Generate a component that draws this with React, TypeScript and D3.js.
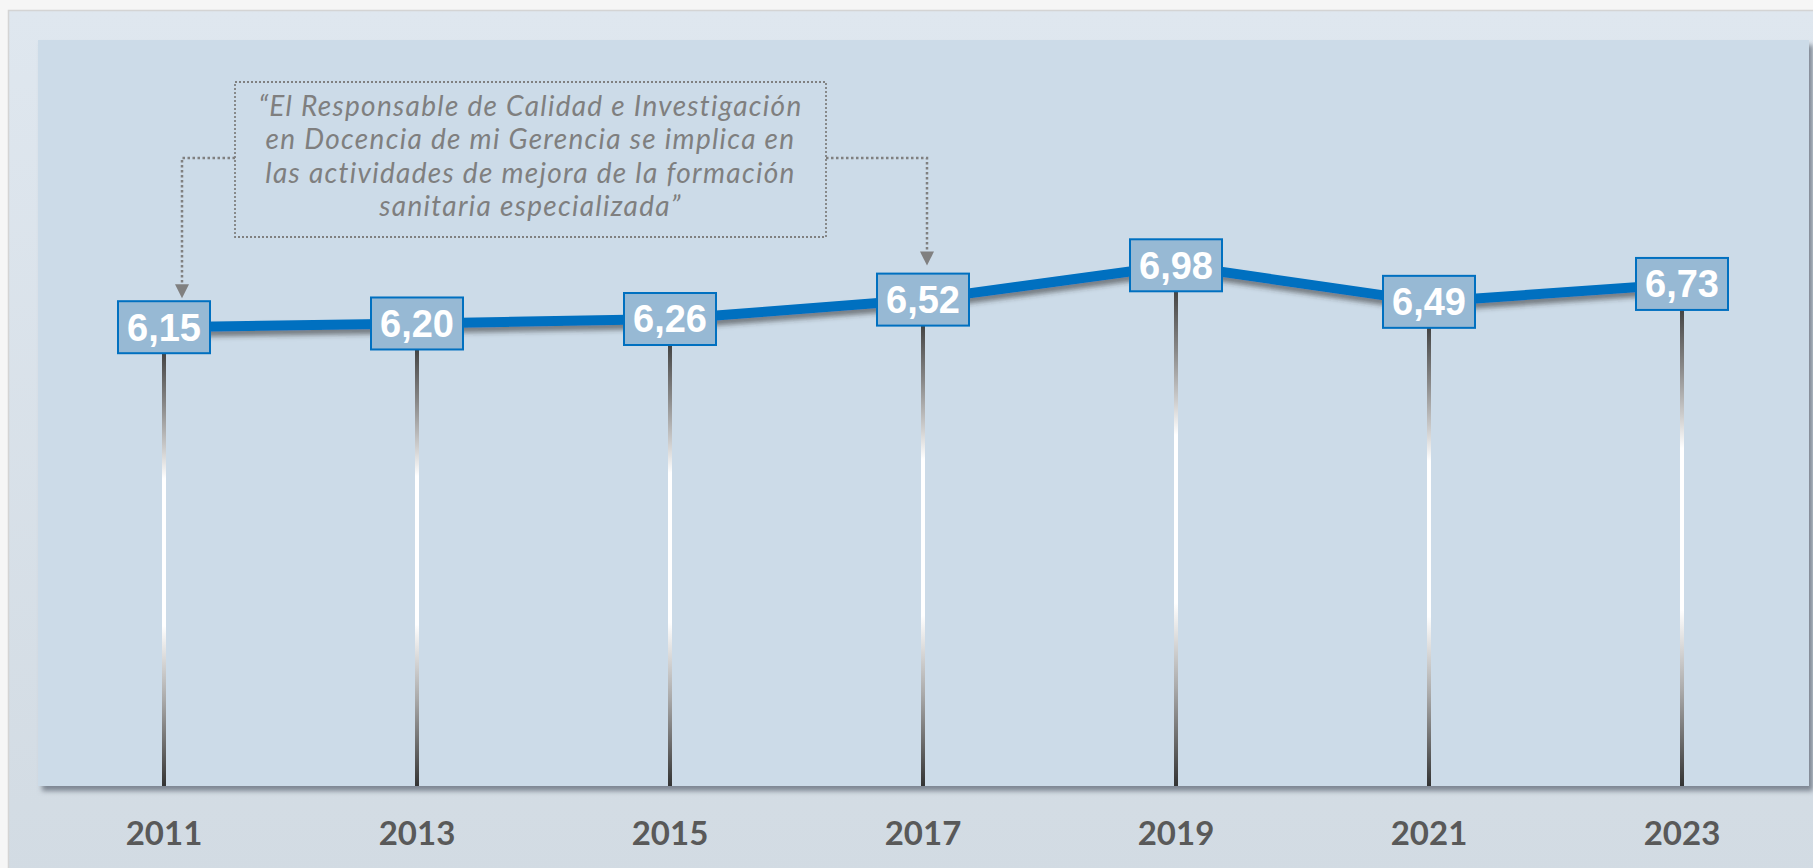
import React from "react";
import * as d3 from "d3";

const years = ["2011", "2013", "2015", "2017", "2019", "2021", "2023"];
const values = [6.15, 6.2, 6.26, 6.52, 6.98, 6.49, 6.73];
const quoteLines = [
  "“El Responsable de Calidad e Investigación",
  "en Docencia de mi Gerencia se implica en",
  "las actividades de mejora de la formación",
  "sanitaria especializada”",
];
const fmt = (v: number) => v.toFixed(2).replace(".", ",");

const W = 1813;
const H = 868;
const panel = { x0: 38, y0: 40, x1: 1809, y1: 786 };

export default function App() {
  const x = d3.scalePoint<string>().domain(years).range([164, 1682]);
  const y = d3.scaleLinear().domain([0, 10]).range([panel.y1, panel.y0]);
  const pts = years.map((yr, i) => [x(yr) as number, y(values[i])] as [number, number]);
  const line = d3.line()(pts) as string;
  const boxW = 92;
  const boxH = 52;

  // annotation geometry
  const ann = { x0: 235, y0: 82, x1: 826, y1: 237 };
  const cy = 158;
  const lx = (x("2011") as number) + 18;
  const ltip = y(values[0]) - boxH / 2 - 3;
  const rx = (x("2017") as number) + 4;
  const rtip = y(values[3]) - boxH / 2 - 8;
  const annCx = (ann.x0 + ann.x1) / 2;

  return (
    <div style={{ position: "absolute", left: 0, top: 0 }}>
      <svg width={W} height={H} style={{ display: "block" }}>
        <defs>
          <linearGradient id="outerG" x1="0" y1="0" x2="0" y2="1">
            <stop offset="0" stopColor="#dfe7ef" />
            <stop offset="1" stopColor="#d2dbe3" />
          </linearGradient>
          <linearGradient id="stemG" x1="0" y1="0" x2="0" y2="1">
            <stop offset="0" stopColor="#444" />
            <stop offset="0.12" stopColor="#888" />
            <stop offset="0.22" stopColor="#ccc" />
            <stop offset="0.29" stopColor="#fff" />
            <stop offset="0.63" stopColor="#fff" />
            <stop offset="0.8" stopColor="#aaa" />
            <stop offset="1" stopColor="#333" />
          </linearGradient>
          <filter id="panelShadow" x="-5%" y="-5%" width="110%" height="115%">
            <feDropShadow dx="4" dy="5" stdDeviation="2.5" floodColor="#5a6470" floodOpacity="0.7" />
          </filter>
          <filter id="lineShadow" x="-5%" y="-50%" width="110%" height="200%">
            <feDropShadow dx="1" dy="5" stdDeviation="2.5" floodColor="#333" floodOpacity="0.55" />
          </filter>
        </defs>
        <rect x={0} y={0} width={W} height={H} fill="#f6f6f6" />
        <rect x={8.5} y={10.5} width={W} height={H} fill="url(#outerG)" stroke="#d4d4d4" strokeWidth={1.5} />
        <rect
          x={panel.x0}
          y={panel.y0}
          width={panel.x1 - panel.x0}
          height={panel.y1 - panel.y0}
          fill="#ccdbe8"
          filter="url(#panelShadow)"
        />
        {/* stems */}
        {pts.map(([px, py], i) => (
          <rect key={"s" + i} x={px - 2} y={py + boxH / 2} width={4} height={panel.y1 - (py + boxH / 2)} fill="url(#stemG)" />
        ))}
        {/* line */}
        <path d={line} fill="none" stroke="#0070c0" strokeWidth={10} strokeLinejoin="round" filter="url(#lineShadow)" />
        {/* value boxes */}
        {pts.map(([px, py], i) => (
          <g key={"b" + i}>
            <rect x={px - boxW / 2} y={py - boxH / 2} width={boxW} height={boxH} fill="#97b9d4" stroke="#0070c0" strokeWidth={2} />
            <text
              x={px}
              y={py}
              dy="0.35em"
              textAnchor="middle"
              fill="#fff"
              fontFamily="'Liberation Sans', Arial, sans-serif"
              fontWeight="bold"
              fontSize={38}
            >
              {fmt(values[i])}
            </text>
          </g>
        ))}
        {/* year labels */}
        {years.map((yr) => (
          <text
            key={"y" + yr}
            x={x(yr) as number}
            y={845}
            textAnchor="middle"
            fill="#595959"
            fontFamily="Lato, sans-serif"
            fontWeight="bold"
            fontSize={33}
          >
            {yr}
          </text>
        ))}
        {/* annotation */}
        <g stroke="#808080" strokeWidth={2.5} strokeDasharray="2.5 2.5" fill="none">
          <rect x={ann.x0} y={ann.y0} width={ann.x1 - ann.x0} height={ann.y1 - ann.y0} strokeWidth={1.8} strokeDasharray="2 2" />
          <polyline points={`${ann.x0},${cy} ${lx},${cy} ${lx},${ltip - 12}`} />
          <polyline points={`${ann.x1},${cy} ${rx},${cy} ${rx},${rtip - 12}`} />
        </g>
        <path d={`M${lx - 7},${ltip - 14} L${lx + 7},${ltip - 14} L${lx},${ltip} Z`} fill="#808080" />
        <path d={`M${rx - 7},${rtip - 14} L${rx + 7},${rtip - 14} L${rx},${rtip} Z`} fill="#808080" />
        {quoteLines.map((l, i) => (
          <text
            key={"q" + i}
            x={annCx}
            y={116 + i * 33.3}
            textAnchor="middle"
            fill="#7f7f7f"
            fontFamily="Lato, sans-serif"
            fontStyle="italic"
            fontSize={28}
            letterSpacing={1.3}
          >
            {l}
          </text>
        ))}
      </svg>
    </div>
  );
}
